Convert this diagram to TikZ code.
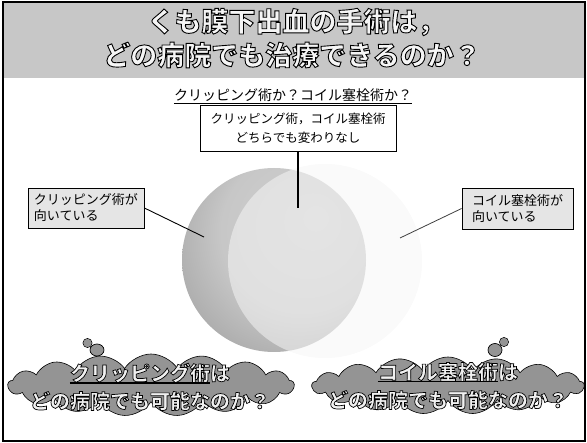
\documentclass[tikz,border=0pt]{standalone}
\usepackage{fontspec}
\setmainfont{Noto Sans CJK JP}
\usetikzlibrary{shapes.symbols,calc}
\pgfdeclareradialshading{lshade}{\pgfpoint{12bp}{12bp}}{color(0bp)=(black!18); color(22bp)=(black!22); color(40bp)=(black!38); color(60bp)=(black!48)}
\newcommand\outl[2]{\special{pdf:code q 2 Tr #1 w 0 G}#2\special{pdf:code Q}}
\tikzset{
  sidebox/.style={draw, line width=0.8pt, fill=black!10, align=left, inner sep=0pt,
    font=\fontsize{13}{16}\selectfont},
  cloudbox/.style={cloud, cloud puffs=17, cloud puff arc=115, cloud ignores aspect,
    draw, line width=0.6pt, fill=black!42},
  tailshape/.style={draw, line width=0.7pt, fill=black!42},
  titletext/.style={font=\fontsize{27}{32}\selectfont\bfseries, inner sep=0pt, text=black!4},
  cloudtext/.style={font=\fontsize{20}{25}\selectfont\bfseries, inner sep=0pt, text=black!6},
  ulstyle/.style={line width=1.2pt, black},
}
\begin{document}
\begin{tikzpicture}[x=1pt,y=-1pt]
\useasboundingbox (0,0) rectangle (587,443);
% title band
\fill[black!22] (4,3) rectangle (584,78);
\node[titletext] (t1) at (296,22) {\outl{0.9}{くも膜下出血の手術は，}};
\node[titletext] (t2) at (292,55) {\outl{0.9}{どの病院でも治療できるのか？}};
% subtitle
\node[font=\fontsize{14}{16}\selectfont, inner sep=0pt] (sub) at (293,95) {クリッピング術か？コイル塞栓術か？};
\draw[line width=0.8pt] ([yshift=-1.5pt]sub.south west) -- ([yshift=-1.5pt]sub.south east);
% circles
\coordinate (Lc) at (274,260);
\coordinate (Rc) at (325,261);
\shade[shading=lshade] (Lc) circle[radius=92pt];
\fill[black!4, opacity=0.55] (Rc) circle[radius=97pt];
% center box
\node[draw, fill=white, line width=0.9pt, align=center, minimum width=196pt, minimum height=46pt,
  inner sep=0pt, font=\fontsize{12.5}{19}\selectfont] (cbox) at (298,128.5)
  {クリッピング術，コイル塞栓術\\どちらでも変わりなし};
\coordinate (cEnd) at (298,208);
\draw[line width=1.5pt] (cbox.south) -- (cEnd);
% side boxes
\node[sidebox, minimum width=116pt, minimum height=40pt] (lbox) at (86,208) {クリッピング術が\\向いている};
\node[sidebox, minimum width=111pt, minimum height=41pt] (rbox) at (517.5,208.5) {コイル塞栓術が\\向いている};
\coordinate (lEnd) at (204,237);
\coordinate (rEnd) at (400,238);
\draw[line width=0.9pt] (lbox.east) -- (lEnd);
\draw[line width=0.8pt, black!75] (rbox.west) -- (rEnd);
% cloud tails
\draw[tailshape] (87.5,343) circle[radius=4.5pt];
\draw[tailshape] (97,350) ellipse[x radius=7pt, y radius=6pt];
\fill[black!42] (87.5,343) circle[radius=4.1pt];
\draw[tailshape] (504,342) circle[radius=4.5pt];
\draw[tailshape] (495,350) ellipse[x radius=7pt, y radius=6.5pt];
\fill[black!42] (504,342) circle[radius=4.1pt];
% clouds
\node[cloudbox, minimum width=286pt, minimum height=62pt] (lcloud) at (151,385) {};
\node[cloudbox, minimum width=272pt, minimum height=57pt] (rcloud) at (448,385.5) {};
\node[cloudtext] (lct1) at (150,373) {\outl{0.7}{クリッピング術は}};
\node[cloudtext] (lct2) at (150,401) {\outl{0.7}{どの病院でも可能なのか？}};
\draw[ulstyle] (lct1.south west) -- ([xshift=-20pt]lct1.south east);
\node[cloudtext] (rct1) at (448,372) {\outl{0.7}{コイル塞栓術は}};
\node[cloudtext] (rct2) at (448,400) {\outl{0.7}{どの病院でも可能なのか？}};
\draw[ulstyle] (rct1.south west) -- ([xshift=-20pt]rct1.south east);
% frame
\draw[line width=1.8pt] (3,2) rectangle (585,441);
\end{tikzpicture}
\end{document}
